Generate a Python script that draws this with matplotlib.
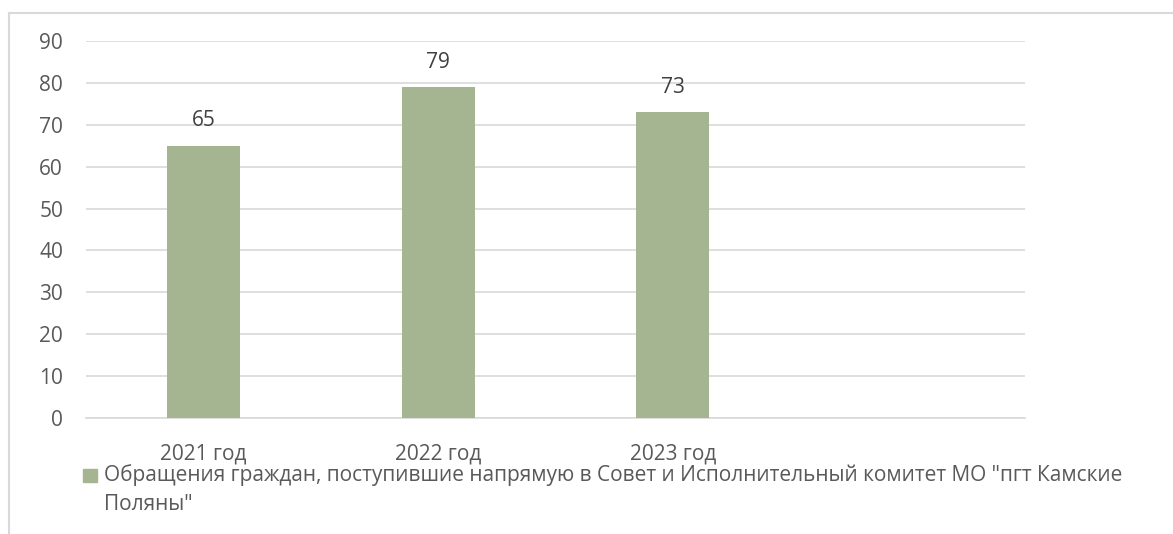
import matplotlib
matplotlib.use('Agg')
import matplotlib.pyplot as plt
from matplotlib.patches import Rectangle

plt.rcParams['font.family'] = ['Open Sans', 'DejaVu Sans']

categories = ['2021 год', '2022 год', '2023 год', '']
values = [65, 79, 73]
series_name = 'Обращения граждан, поступившие напрямую в Совет и Исполнительный комитет МО "пгт Камские\nПоляны"'
yticks = [0, 10, 20, 30, 40, 50, 60, 70, 80, 90]

bar_color = '#A5B592'
text_color = '#595959'
grid_color = '#D9D9D9'
W, H = 1173, 534

fig = plt.figure(figsize=(W / 100, H / 100), dpi=100)
ax = fig.add_axes([86 / W, 1 - 418 / H, (1025 - 86) / W, (418 - 41) / H])

x = list(range(len(categories)))
bars = ax.bar(x[:len(values)], values, width=0.31, color=bar_color, zorder=3)
for b, v in zip(bars, values):
    ax.annotate(str(v), (b.get_x() + b.get_width() / 2, v), xytext=(0, 18),
                textcoords='offset points', ha='center', va='center',
                fontsize=15, color='#404040')

ax.set_xlim(-0.5, len(categories) - 0.5)
ax.set_ylim(0, 90)
ax.set_yticks(yticks)
ax.set_xticks(x)
ax.set_xticklabels(categories)
ax.yaxis.grid(True, color=grid_color, linewidth=1.2, zorder=0)
ax.tick_params(axis='both', length=0, labelsize=15, colors=text_color)
ax.tick_params(axis='y', pad=16.5)
ax.tick_params(axis='x', pad=18)
for s in ['left', 'right', 'top']:
    ax.spines[s].set_visible(False)
ax.spines['bottom'].set_color(grid_color)
ax.spines['bottom'].set_linewidth(1.2)

# legend below the plot
fig.patches.append(Rectangle((83 / W, 1 - 482 / H), 14 / W, 13 / H,
                             transform=fig.transFigure, color=bar_color))
for i, line in enumerate(series_name.split('\n')):
    fig.text(104 / W, 1 - (475 + 30 * i) / H, line, fontsize=15, color=text_color,
             va='center', ha='left')

# chart frame (cropped on right and bottom)
fig.add_artist(plt.Line2D([9 / W, 1], [1 - 13 / H] * 2, transform=fig.transFigure,
                          color=grid_color, linewidth=1.5))
fig.add_artist(plt.Line2D([9 / W] * 2, [0, 1 - 13 / H], transform=fig.transFigure,
                          color=grid_color, linewidth=1.5))

plt.savefig('out.png', dpi=100)
